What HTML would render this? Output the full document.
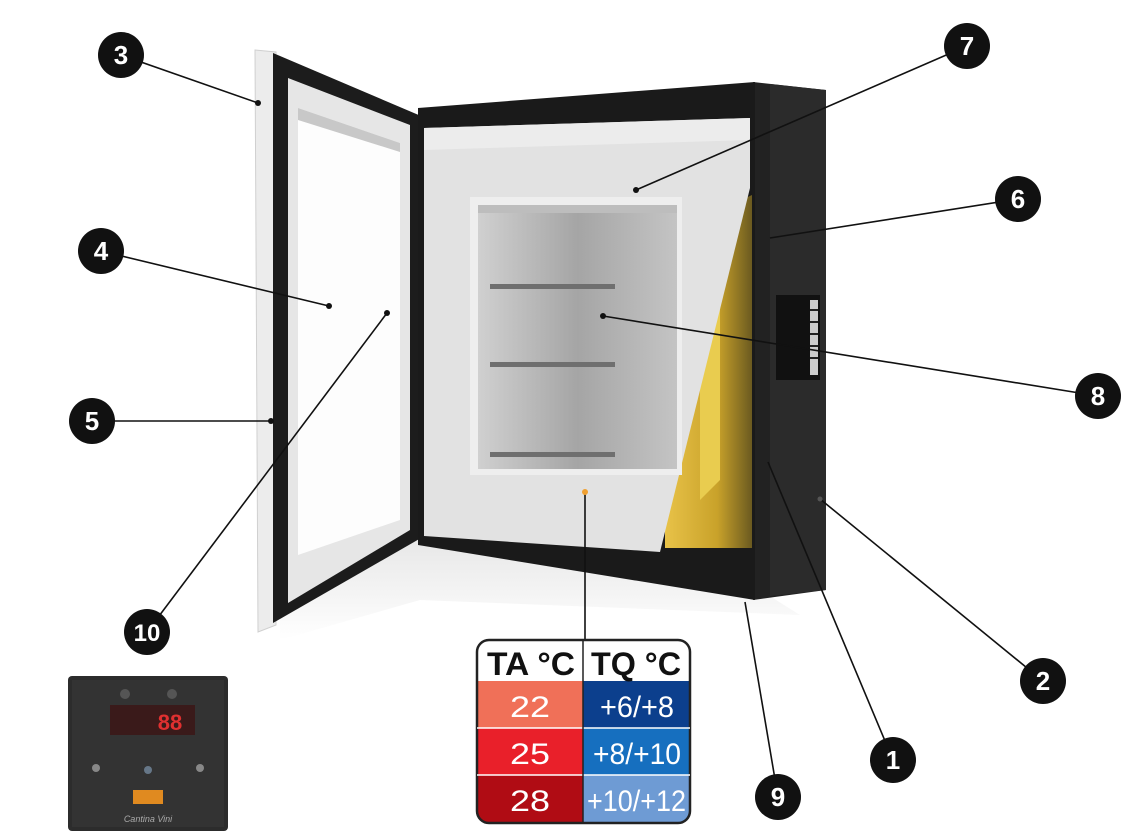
<!DOCTYPE html>
<html><head><meta charset="utf-8"><style>
html,body{margin:0;padding:0;background:#fff;}
svg{display:block;}
</style></head><body>
<svg width="1146" height="836" viewBox="0 0 1146 836" xmlns="http://www.w3.org/2000/svg" font-family="Liberation Sans, sans-serif">
<defs>
<linearGradient id="ch" x1="0" y1="0" x2="1" y2="0"><stop offset="0" stop-color="#d0d0d0"/><stop offset="0.5" stop-color="#a5a5a5"/><stop offset="1" stop-color="#c4c4c4"/></linearGradient>
<linearGradient id="yl" x1="0" y1="0" x2="1" y2="0"><stop offset="0" stop-color="#e8c248"/><stop offset="0.6" stop-color="#c9a22a"/><stop offset="1" stop-color="#6b5a20"/></linearGradient>
<linearGradient id="fl" x1="0" y1="0" x2="0" y2="1"><stop offset="0" stop-color="#d8d8d8"/><stop offset="1" stop-color="#fff"/></linearGradient>
</defs>
<polygon points="280,560 420,540 760,590 800,615 420,600 280,640" fill="url(#fl)" opacity="0.6"/>
<polygon points="255,50 276,52 276,625 258,632" fill="#ececec" stroke="#d0d0d0"/>
<polygon points="273,53 421,116 421,538 273,623" fill="#1c1c1c"/>
<polygon points="288,78 410,125 410,530 288,603" fill="#e6e6e6"/>
<polygon points="298,108 400,143 400,520 298,555" fill="#fdfdfd"/>
<polygon points="298,108 400,143 400,152 298,120" fill="#c8c8c8"/>
<polygon points="753,82 826,90 826,590 753,600" fill="#222"/>
<polygon points="770,84 826,90 826,590 770,596" fill="#2b2b2b"/>
<polygon points="418,108 755,82 755,600 418,545" fill="#1a1a1a"/>
<polygon points="665,235 752,195 752,548 665,548" fill="url(#yl)"/>
<polygon points="700,250 720,240 720,480 700,500" fill="#e9cc4f"/>
<polygon points="424,128 750,118 750,188 660,552 424,536" fill="#e2e2e2"/>
<polygon points="424,128 750,118 750,140 424,150" fill="#ececec"/>
<rect x="470" y="197" width="212" height="278" fill="#eeeeee"/>
<rect x="478" y="205" width="199" height="264" fill="url(#ch)"/>
<rect x="478" y="205" width="199" height="8" fill="#bdbdbd"/>
<rect x="490" y="284" width="125" height="5" fill="#6f6f6f"/>
<rect x="490" y="362" width="125" height="5" fill="#6f6f6f"/>
<rect x="490" y="452" width="125" height="5" fill="#6f6f6f"/>
<rect x="776" y="295" width="44" height="85" fill="#111"/>
<rect x="810" y="300" width="8" height="75" fill="#ccc"/>
<g stroke="#222" stroke-width="2"><line x1="810" y1="310" x2="818" y2="310"/><line x1="810" y1="322" x2="818" y2="322"/><line x1="810" y1="334" x2="818" y2="334"/><line x1="810" y1="346" x2="818" y2="346"/><line x1="810" y1="358" x2="818" y2="358"/></g>
<g stroke="#111" stroke-width="1.6" fill="none">
<line x1="121" y1="55" x2="258" y2="103"/>
<line x1="101" y1="251" x2="329" y2="306"/>
<line x1="92" y1="421" x2="271" y2="421"/>
<line x1="147" y1="632" x2="387" y2="313"/>
<line x1="967" y1="46" x2="636" y2="190"/>
<line x1="1018" y1="199" x2="770" y2="238"/>
<line x1="1098" y1="396" x2="603" y2="316"/>
<line x1="1043" y1="681" x2="820" y2="499"/>
<line x1="893" y1="760" x2="768" y2="462"/>
<line x1="778" y1="797" x2="745" y2="602"/>
<line x1="585" y1="492" x2="585" y2="642"/>
</g>
<g fill="#111">
<circle cx="258" cy="103" r="3"/><circle cx="329" cy="306" r="3"/><circle cx="271" cy="421" r="3"/><circle cx="387" cy="313" r="3"/><circle cx="636" cy="190" r="3"/><circle cx="603" cy="316" r="3"/><circle cx="820" cy="499" r="2.5" fill="#555"/>
</g>
<circle cx="585" cy="492" r="3" fill="#f0a030"/>
<g font-weight="bold" font-size="26" fill="#fff" text-anchor="middle">
<circle cx="121" cy="55" r="23" fill="#111"/><text x="121" y="64" fill="#fff">3</text>
<circle cx="101" cy="251" r="23" fill="#111"/><text x="101" y="260" fill="#fff">4</text>
<circle cx="92" cy="421" r="23" fill="#111"/><text x="92" y="430" fill="#fff">5</text>
<circle cx="147" cy="632" r="23" fill="#111"/><text x="147" y="641" fill="#fff" font-size="24">10</text>
<circle cx="967" cy="46" r="23" fill="#111"/><text x="967" y="55" fill="#fff">7</text>
<circle cx="1018" cy="199" r="23" fill="#111"/><text x="1018" y="208" fill="#fff">6</text>
<circle cx="1098" cy="396" r="23" fill="#111"/><text x="1098" y="405" fill="#fff">8</text>
<circle cx="1043" cy="681" r="23" fill="#111"/><text x="1043" y="690" fill="#fff">2</text>
<circle cx="893" cy="760" r="23" fill="#111"/><text x="893" y="769" fill="#fff">1</text>
<circle cx="778" cy="797" r="23" fill="#111"/><text x="778" y="806" fill="#fff">9</text>
</g>
<clipPath id="tc"><rect x="477" y="640" width="213" height="183" rx="12"/></clipPath>
<g clip-path="url(#tc)">
<rect x="477" y="640" width="213" height="183" fill="#fff"/>
<rect x="477" y="681" width="106" height="47" fill="#f07058"/>
<rect x="477" y="728" width="106" height="47" fill="#e9202a"/>
<rect x="477" y="775" width="106" height="48" fill="#b00c14"/>
<rect x="583" y="681" width="107" height="47" fill="#0c3f8d"/>
<rect x="583" y="728" width="107" height="47" fill="#166fbf"/>
<rect x="583" y="775" width="107" height="48" fill="#6e9bd4"/>
</g>
<rect x="477" y="640" width="213" height="183" rx="12" fill="none" stroke="#222" stroke-width="2.5"/>
<g stroke="#fff" stroke-width="1.5"><line x1="477" y1="728" x2="690" y2="728"/><line x1="477" y1="775" x2="690" y2="775"/></g>
<line x1="583" y1="640" x2="583" y2="823" stroke="#222" stroke-width="1.5"/>
<g font-size="32" fill="#111" font-weight="bold">
<text x="487" y="675" textLength="88" lengthAdjust="spacingAndGlyphs">TA °C</text>
<text x="591" y="675" textLength="90" lengthAdjust="spacingAndGlyphs">TQ °C</text>
</g>
<g font-size="30" fill="#fff">
<text x="510" y="717" textLength="40" lengthAdjust="spacingAndGlyphs">22</text>
<text x="510" y="764" textLength="40" lengthAdjust="spacingAndGlyphs">25</text>
<text x="510" y="811" textLength="40" lengthAdjust="spacingAndGlyphs">28</text>
<text x="600" y="717" textLength="74" lengthAdjust="spacingAndGlyphs">+6/+8</text>
<text x="593" y="764" textLength="88" lengthAdjust="spacingAndGlyphs">+8/+10</text>
<text x="587" y="811" textLength="99" lengthAdjust="spacingAndGlyphs">+10/+12</text>
</g>
<rect x="68" y="676" width="160" height="155" rx="4" fill="#2c2c2c"/>
<rect x="72" y="680" width="152" height="147" fill="#333"/>
<circle cx="125" cy="694" r="5" fill="#555"/><circle cx="172" cy="694" r="5" fill="#555"/>
<rect x="110" y="705" width="85" height="30" fill="#3a1a1a"/>
<text x="170" y="730" fill="#e03030" font-size="22" font-weight="bold" text-anchor="middle">88</text>
<circle cx="96" cy="768" r="4" fill="#888"/><circle cx="148" cy="770" r="4" fill="#678"/><circle cx="200" cy="768" r="4" fill="#888"/>
<rect x="133" y="790" width="30" height="14" fill="#e08a20"/>
<text x="148" y="822" fill="#aaa" font-size="9" font-style="italic" text-anchor="middle">Cantina Vini</text>
</svg>
</body></html>
